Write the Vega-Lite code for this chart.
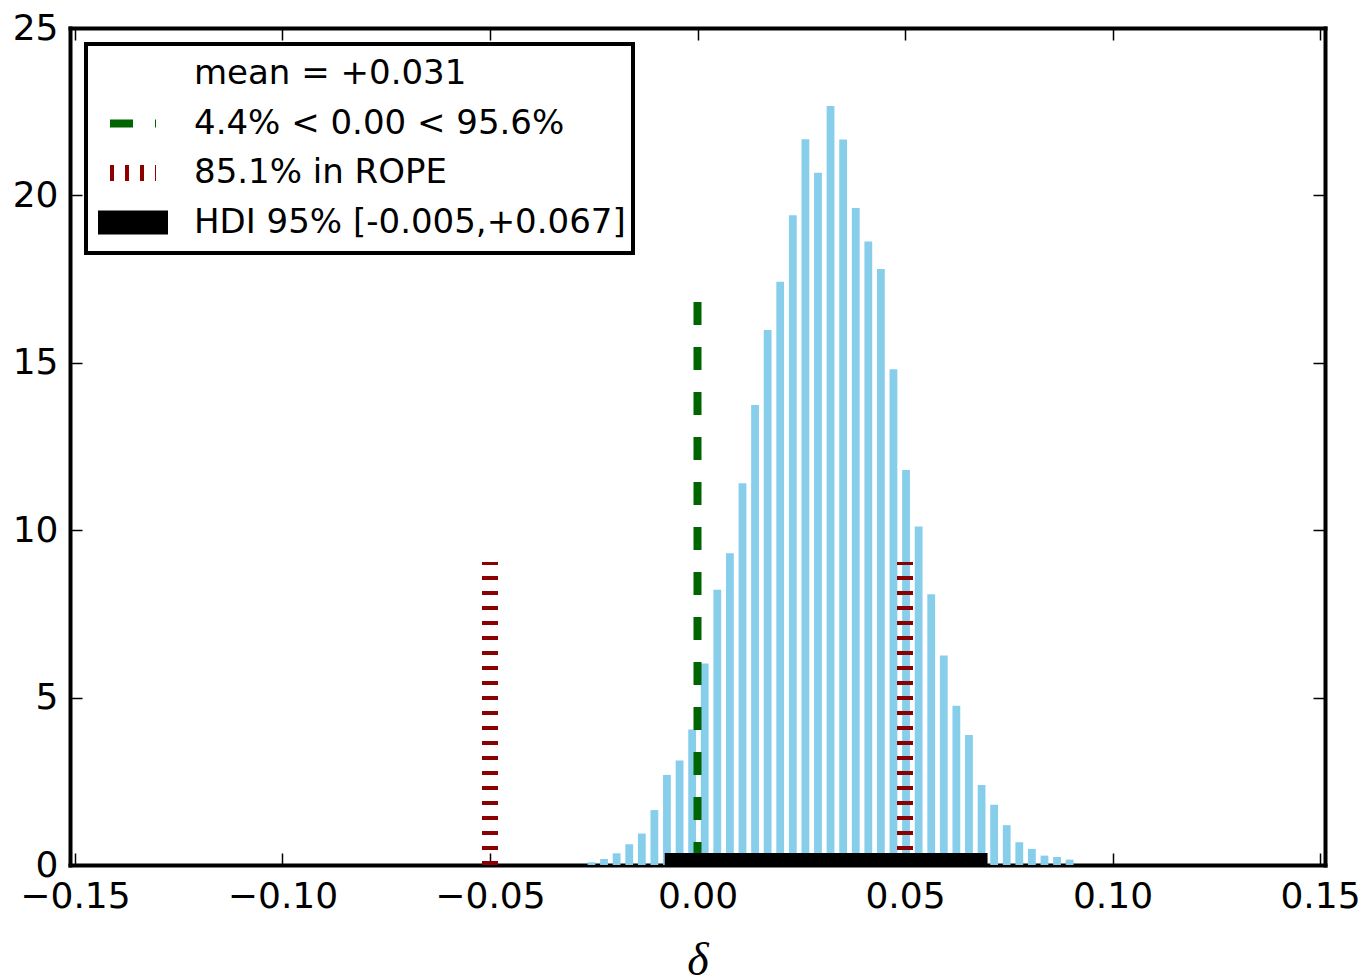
{
  "$schema": "https://vega.github.io/schema/vega-lite/v6.json",
  "width": 1255,
  "height": 837,
  "autosize": {"type": "none"},
  "padding": {"left": 70, "top": 28, "right": 47, "bottom": 115},
  "background": "white",
  "config": {
    "view": {"stroke": null},
    "axis": {
      "domainColor": "black", "domainWidth": 4, "domainCap": "square",
      "tickColor": "black", "tickWidth": 1.5, "tickSize": -12,
      "labelFont": "DejaVu Sans", "labelFontSize": 36, "labelColor": "black",
      "grid": false, "labelFlush": false, "labelOverlap": false, "zindex": 1, "titleColor": "black"
    }
  },
  "datasets": {
    "hist": [
      {"x": -0.02555, "density": 0.08}, {"x": -0.02252, "density": 0.18}, {"x": -0.01949, "density": 0.35},
      {"x": -0.01645, "density": 0.62}, {"x": -0.01342, "density": 0.94}, {"x": -0.01039, "density": 1.64},
      {"x": -0.00736, "density": 2.69}, {"x": -0.00432, "density": 3.12}, {"x": -0.00129, "density": 4.05},
      {"x": 0.00174, "density": 6.02}, {"x": 0.00477, "density": 8.22}, {"x": 0.00781, "density": 9.31},
      {"x": 0.01084, "density": 11.40}, {"x": 0.01387, "density": 13.74}, {"x": 0.01690, "density": 15.98},
      {"x": 0.01993, "density": 17.42}, {"x": 0.02297, "density": 19.41}, {"x": 0.02600, "density": 21.68},
      {"x": 0.02903, "density": 20.68}, {"x": 0.03206, "density": 22.67}, {"x": 0.03509, "density": 21.67},
      {"x": 0.03813, "density": 19.62}, {"x": 0.04116, "density": 18.62}, {"x": 0.04419, "density": 17.80},
      {"x": 0.04722, "density": 14.81}, {"x": 0.05025, "density": 11.80}, {"x": 0.05329, "density": 10.11},
      {"x": 0.05632, "density": 8.09}, {"x": 0.05935, "density": 6.26}, {"x": 0.06238, "density": 4.76},
      {"x": 0.06541, "density": 3.88}, {"x": 0.06845, "density": 2.39}, {"x": 0.07148, "density": 1.80},
      {"x": 0.07451, "density": 1.19}, {"x": 0.07754, "density": 0.68}, {"x": 0.08057, "density": 0.48},
      {"x": 0.08361, "density": 0.28}, {"x": 0.08664, "density": 0.24}, {"x": 0.08967, "density": 0.16}
    ],
    "zero": [{"label": "4.4% < 0.00 < 95.6%", "x": 0, "y": 0, "y2": 17.0}],
    "rope": [
      {"label": "85.1% in ROPE", "x": -0.05, "y": 0, "y2": 9.05},
      {"label": "85.1% in ROPE", "x": 0.05, "y": 0, "y2": 9.05}
    ],
    "hdi": [{"label": "HDI 95% [-0.005,+0.067]", "x": -0.005, "x2": 0.067, "y": 0}]
  },
  "layer": [
    {
      "data": {"name": "hist"},
      "mark": {"type": "bar", "orient": "vertical", "size": 7.8, "color": "#87CEEB"},
      "encoding": {
        "x": {"field": "x", "type": "quantitative",
          "scale": {"domain": [-0.15, 0.15], "nice": false, "zero": false},
          "axis": {"orient": "bottom", "values": [-0.15, -0.1, -0.05, 0, 0.05, 0.1, 0.15], "format": ".2f",
            "title": "δ", "titleFont": "Liberation Serif", "titleFontStyle": "italic", "titleFontWeight": "normal",
            "titleFontSize": 46, "titlePadding": 24, "labelPadding": 26}},
        "y": {"field": "density", "type": "quantitative",
          "scale": {"domain": [0, 25], "nice": false},
          "axis": {"orient": "left", "values": [0, 5, 10, 15, 20, 25], "format": "d", "title": null, "labelPadding": 24}}
      }
    },
    {
      "data": {"name": "zero"},
      "mark": {"type": "rule", "strokeWidth": 8, "strokeDash": [23, 22], "strokeCap": "butt"},
      "encoding": {
        "x": {"field": "x", "type": "quantitative",
          "axis": {"orient": "top", "values": [-0.15, -0.1, -0.05, 0, 0.05, 0.1, 0.15], "labels": false, "title": null}},
        "y": {"field": "y", "type": "quantitative",
          "axis": {"orient": "right", "values": [0, 5, 10, 15, 20, 25], "labels": false, "title": null}},
        "y2": {"field": "y2"},
        "color": {"field": "label", "type": "nominal",
          "scale": {"domain": ["mean = +0.031", "4.4% < 0.00 < 95.6%", "85.1% in ROPE", "HDI 95% [-0.005,+0.067]"],
                    "range": ["white", "#006400", "#8B0000", "black"]},
          "legend": {
            "title": null, "orient": "top-left", "offset": 16, "padding": 7,
            "strokeColor": "black", "fillColor": "white", "cornerRadius": 0,
            "symbolType": "stroke", "symbolSize": 2116, "symbolStrokeWidth": 0,
            "symbolOffset": 23, "labelOffset": 44, "rowPadding": 3.5, "clipHeight": 46,
            "labelFont": "DejaVu Sans", "labelFontSize": 34, "labelColor": "black", "labelLimit": 1000,
            "encode": {
              "legend": {"update": {"strokeWidth": {"value": 4}}},
              "symbols": {"update": {
                "strokeWidth": {"signal": "datum.value === 'HDI 95% [-0.005,+0.067]' ? 24 : datum.value === '85.1% in ROPE' ? 16 : 8"},
                "strokeDash": {"signal": "datum.value === '85.1% in ROPE' ? [4, 11] : datum.value === '4.4% < 0.00 < 95.6%' ? [23, 22] : [1, 0]"},
                "strokeCap": {"signal": "datum.value === 'HDI 95% [-0.005,+0.067]' ? 'square' : 'butt'"},
                "opacity": {"value": 1}
              }}
            }
          }}
      }
    },
    {
      "data": {"name": "rope"},
      "mark": {"type": "rule", "strokeWidth": 16, "strokeDash": [4, 11], "strokeCap": "butt"},
      "encoding": {
        "x": {"field": "x", "type": "quantitative", "axis": null},
        "y": {"field": "y", "type": "quantitative", "axis": null},
        "y2": {"field": "y2"},
        "color": {"field": "label", "type": "nominal"}
      }
    },
    {
      "data": {"name": "hdi"},
      "mark": {"type": "rule", "strokeWidth": 24, "strokeCap": "square", "clip": true},
      "encoding": {
        "x": {"field": "x", "type": "quantitative", "axis": null},
        "x2": {"field": "x2"},
        "y": {"field": "y", "type": "quantitative", "axis": null},
        "color": {"field": "label", "type": "nominal"}
      }
    }
  ],
  "resolve": {"axis": {"x": "independent", "y": "independent"}}
}
